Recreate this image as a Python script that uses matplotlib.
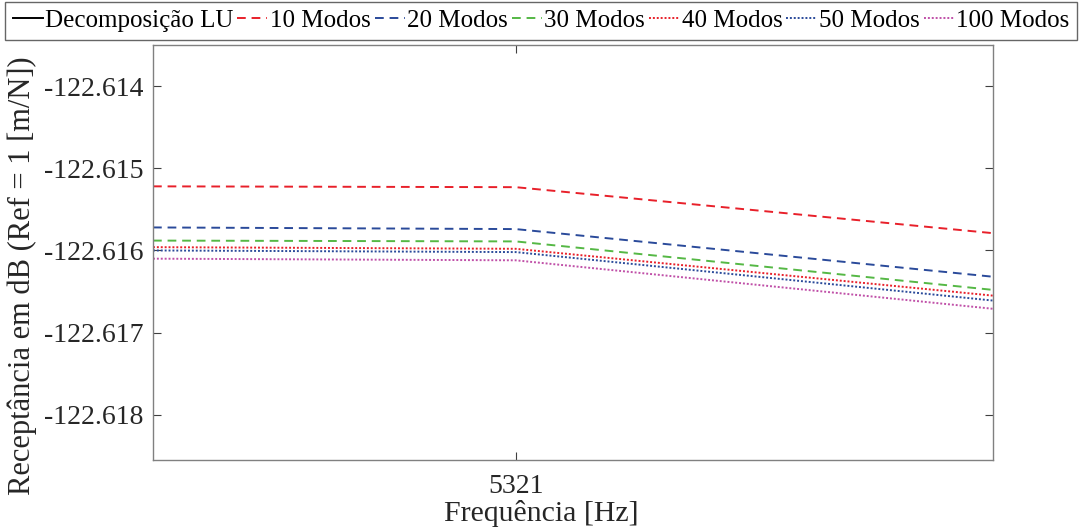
import numpy as np
import matplotlib
matplotlib.use('Agg')
import matplotlib.pyplot as plt

plt.rcParams['font.family'] = ['Liberation Serif', 'DejaVu Serif']

freq = [5320.24, 5321.0, 5322.0]
# LU curve lies outside the visible range (only in legend)
lu = [-122.6192, -122.6192, -122.6194]
m10 = [-122.61522, -122.61523, -122.61579]
m20 = [-122.61572, -122.61574, -122.61632]
m30 = [-122.61588, -122.61589, -122.61648]
m40 = [-122.61596, -122.61598, -122.61655]
m50 = [-122.61600, -122.61602, -122.61661]
m100 = [-122.61610, -122.61612, -122.61671]

labels = ['Decomposição LU', '10 Modos', '20 Modos', '30 Modos',
          '40 Modos', '50 Modos', '100 Modos']
yticks = [-122.614, -122.615, -122.616, -122.617, -122.618]

fig = plt.figure(figsize=(10.81, 5.27), dpi=100)
ax = fig.add_axes([153/1081, 1-460/527, 840/1081, 415/527])

dash = (0, (4.5, 3))
dot = (0, (1, 1))
ax.plot(freq, lu, color='black', lw=1.4, label=labels[0])
ax.plot(freq, m10, color='#e8202a', ls=dash, lw=1.4, label=labels[1])
ax.plot(freq, m20, color='#2a4a9a', ls=dash, lw=1.4, label=labels[2])
ax.plot(freq, m30, color='#55b845', ls=dash, lw=1.4, label=labels[3])
ax.plot(freq, m40, color='#e8202a', ls=dot, lw=1.4, label=labels[4])
ax.plot(freq, m50, color='#2a4a9a', ls=dot, lw=1.4, label=labels[5])
ax.plot(freq, m100, color='#c050a8', ls=dot, lw=1.4, label=labels[6])

ax.set_xlim(freq[0], freq[-1])
ax.set_ylim(-122.61855, -122.6135)
ax.set_xticks([5321])
ax.set_xticklabels(['5321'])
ax.set_yticks(yticks)
ax.set_yticklabels(['%.3f' % v for v in yticks])
ax.tick_params(direction='in', top=True, right=True, length=6,
               labelsize=20, colors='#404040', labelcolor='#262626')
ax.tick_params(axis='x', pad=10)
ax.tick_params(axis='y', pad=7)
for s in ax.spines.values():
    s.set_color('#808080')
    s.set_linewidth(1.0)
ax.set_xlabel('Frequência [Hz]', fontsize=21.5, color='#262626', va='top')
ax.xaxis.set_label_coords(0.462, -0.097)
ax.set_ylabel('Receptância em dB (Ref = 1 [m/N])', fontsize=22, color='#262626')
ax.yaxis.set_label_coords(-0.138, 0.443)

leg = fig.legend(loc='upper left', bbox_to_anchor=(5/1081, 1-2/527, 1072/1081, 0.0),
                 mode='expand', ncol=7,
                 fontsize=18, frameon=True, fancybox=False,
                 handlelength=1.2, handletextpad=0.1, columnspacing=0.2,
                 borderpad=0.3, borderaxespad=0.0)
leg.get_frame().set_edgecolor('#404040')
leg.get_frame().set_linewidth(1.0)

fig.savefig('out.png', dpi=100)
